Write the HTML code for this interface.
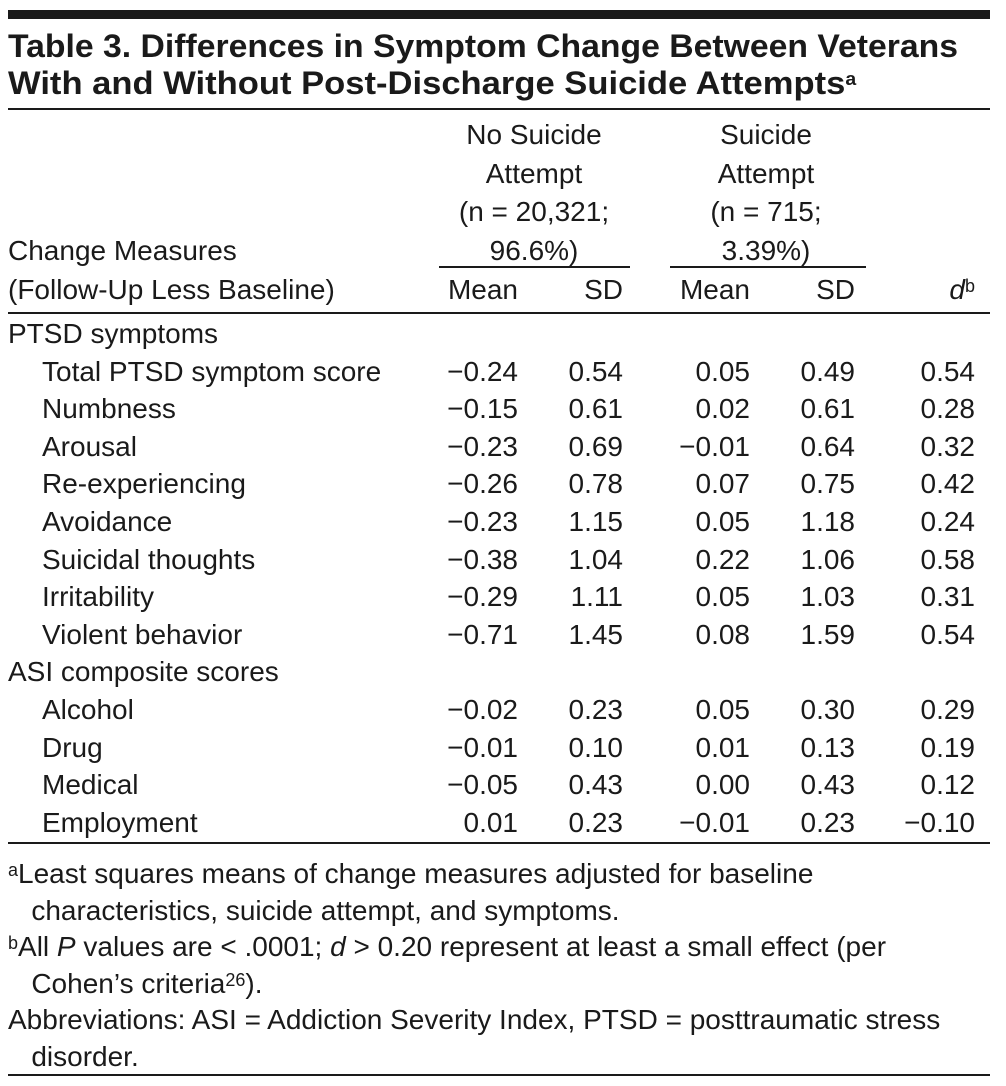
<!DOCTYPE html>
<html><head><meta charset="utf-8">
<style>
body{margin:0;background:#fff;width:1006px;height:1086px;position:relative;overflow:hidden;font-family:"Liberation Sans",sans-serif;color:#1a1a1a;font-size:28px}
.t{position:absolute;white-space:nowrap;line-height:30px}
.r{text-align:right}
.hl{position:absolute;background:#1a1a1a;height:2px}
.title{font-family:"Liberation Sans",sans-serif;font-weight:bold;font-size:32px;transform-origin:0 50%}
sup{font-size:18px;vertical-align:top;position:relative;top:-4px}
</style></head><body>
<div class="hl" style="left:8px;top:10px;width:982px;height:9px"></div>
<div class="t title" id="t1" style="left:8px;top:31px">Table 3. Differences in Symptom Change Between Veterans</div>
<div class="t title" id="t2" style="left:8px;top:68px">With and Without Post-Discharge Suicide Attempts<sup>a</sup></div>
<div class="hl" style="left:8px;top:108px;width:982px"></div>

<div class="t" style="left:437px;width:194px;top:116px;text-align:center;line-height:38.5px">No Suicide<br>Attempt<br>(n = 20,321;<br>96.6%)</div>
<div class="t" style="left:668px;width:196px;top:116px;text-align:center;line-height:38.5px">Suicide<br>Attempt<br>(n = 715;<br>3.39%)</div>
<div class="hl" style="left:439px;top:266px;width:191px"></div>
<div class="hl" style="left:670px;top:266px;width:196px"></div>
<div class="t" style="left:8px;top:236px">Change Measures</div>
<div class="t" style="left:8px;top:275px">(Follow-Up Less Baseline)</div>
<div class="t r" style="left:418px;width:100px;top:275px">Mean</div>
<div class="t r" style="left:523px;width:100px;top:275px">SD</div>
<div class="t r" style="left:650px;width:100px;top:275px">Mean</div>
<div class="t r" style="left:755px;width:100px;top:275px">SD</div>
<div class="t r" style="left:875px;width:100px;top:275px"><i>d</i><sup>b</sup></div>
<div class="hl" style="left:8px;top:312px;width:982px"></div>

<div id="rows"></div>

<div class="hl" style="left:8px;top:842px;width:982px"></div>
<div class="t" style="left:8px;top:856px;line-height:36.5px"><sup>a</sup>Least squares means of change measures adjusted for baseline<br>&nbsp;&nbsp;&nbsp;characteristics, suicide attempt, and symptoms.</div>
<div class="t" style="left:8px;top:929px;line-height:36.5px"><sup>b</sup>All <i>P</i> values are &lt; .0001; <i>d</i> &gt; 0.20 represent at least a small effect (per<br>&nbsp;&nbsp;&nbsp;Cohen’s criteria<sup>26</sup>).</div>
<div class="t" style="left:8px;top:1002px;line-height:36.5px">Abbreviations: ASI = Addiction Severity Index, PTSD = posttraumatic stress<br>&nbsp;&nbsp;&nbsp;disorder.</div>
<div class="hl" style="left:8px;top:1074px;width:982px"></div>

<script>
const labels=["PTSD symptoms","Total PTSD symptom score","Numbness","Arousal","Re-experiencing","Avoidance","Suicidal thoughts","Irritability","Violent behavior","ASI composite scores","Alcohol","Drug","Medical","Employment"];
const isSection=[1,0,0,0,0,0,0,0,0,1,0,0,0,0];
const meanNo=["","−0.24","−0.15","−0.23","−0.26","−0.23","−0.38","−0.29","−0.71","","−0.02","−0.01","−0.05","0.01"];
const sdNo=["","0.54","0.61","0.69","0.78","1.15","1.04","1.11","1.45","","0.23","0.10","0.43","0.23"];
const meanYes=["","0.05","0.02","−0.01","0.07","0.05","0.22","0.05","0.08","","0.05","0.01","0.00","−0.01"];
const sdYes=["","0.49","0.61","0.64","0.75","1.18","1.06","1.03","1.59","","0.30","0.13","0.43","0.23"];
const dVals=["","0.54","0.28","0.32","0.42","0.24","0.58","0.31","0.54","","0.29","0.19","0.12","−0.10"];
const host=document.getElementById('rows');
function cell(txt,left,w,top,right){
  const el=document.createElement('div');
  el.className='t'+(right?' r':'');
  el.style.left=left+'px';el.style.top=top+'px';
  if(w)el.style.width=w+'px';
  el.textContent=txt;
  host.appendChild(el);return el;
}
labels.forEach((lab,i)=>{
  const top=319+i*37.6;
  const l=cell(lab,isSection[i]?8:42,0,top,false);
  
  
  if(isSection[i])return;
  const cols=[[meanNo,418],[sdNo,523],[meanYes,650],[sdYes,755],[dVals,875]];
  cols.forEach(([arr,x])=>{
    const c=cell(arr[i],x,100,top,true);
    
    
  });
});
function fit(id,w){const e=document.getElementById(id);const s=w/e.offsetWidth;e.style.transform='scaleX('+s+')';}
fit('t1',950);fit('t2',848);
</script>
</body></html>
